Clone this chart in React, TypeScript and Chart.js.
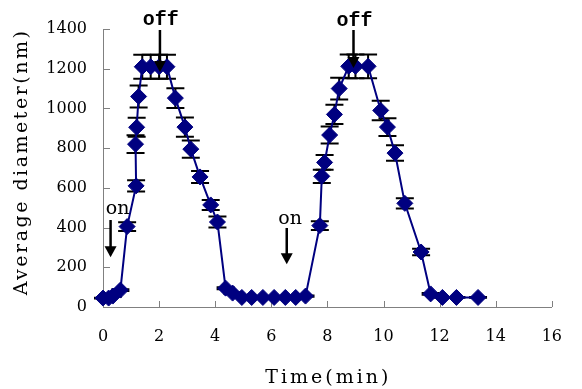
import React, { useEffect, useRef } from 'react';
import { Chart, registerables } from 'chart.js';

Chart.register(...registerables);

// Time (min)
const timeMin = [
  0, 0.2, 0.35, 0.62, 0.86, 1.18, 1.16, 1.2, 1.27, 1.4, 1.7, 2.0, 2.28,
  2.58, 2.92, 3.13, 3.46, 3.84, 4.08, 4.37, 4.62, 4.95, 5.3, 5.7, 6.1, 6.5, 6.87, 7.22,
  7.73, 7.8, 7.9, 8.08, 8.25, 8.42, 8.76, 9.0, 9.45,
  9.9, 10.14, 10.41, 10.76, 11.34, 11.68, 12.1, 12.6, 13.37,
];
// Average diameter (nm)
const diameterNm = [
  45, 45, 55, 85, 405, 610, 820, 905, 1060, 1210, 1210, 1210, 1210,
  1052, 906, 795, 655, 514, 428, 95, 70, 48, 48, 48, 48, 48, 48, 55,
  410, 658, 728, 866, 970, 1100, 1212, 1212, 1212,
  990, 906, 775, 522, 277, 66, 48, 48, 48,
];
// Error (nm)
const errorNm = [
  2, 2, 3, 5, 22, 28, 45, 48, 55, 60, 60, 60, 60,
  50, 48, 43, 30, 25, 28, 5, 4, 2, 2, 2, 2, 2, 2, 3,
  22, 33, 37, 43, 49, 55, 60, 60, 60,
  49, 45, 39, 26, 16, 4, 2, 2, 2,
];

const xMin = 0;
const xMax = 16;
const xStep = 2;
const yMin = 0;
const yMax = 1400;
const yStep = 200;

const xTitle = 'Time(min)';
const yTitle = 'Average diameter(nm)';

// Annotations (in data units)
const markerLabels = ['on', 'off', 'on', 'off'];
const markerArrowX = [0.27, 2.03, 6.55, 8.93];
const markerArrowFrom = [438, 1395, 398, 1395];
const markerArrowTo = [250, 1183, 215, 1203];
const markerLabelX = [0.52, 2.06, 6.67, 8.97];
const markerLabelY = [493, 1445, 443, 1440];

const NAVY = '#000080';
const AXIS_GRAY = '#808080';
const MONO = "'Liberation Mono', 'Courier New', monospace";
const SERIF = "'DejaVu Serif', 'Liberation Serif', serif";

const innerTicksPlugin = {
  id: 'innerTicks',
  beforeDatasetsDraw(chart: any) {
    const { ctx, scales, chartArea } = chart;
    const x = scales.x;
    const y = scales.y;
    ctx.save();
    ctx.strokeStyle = AXIS_GRAY;
    ctx.lineWidth = 1;
    ctx.beginPath();
    for (let v = yMin; v <= yMax; v += yStep) {
      const py = Math.round(y.getPixelForValue(v)) + 0.5;
      ctx.moveTo(chartArea.left, py);
      ctx.lineTo(chartArea.left + 7, py);
    }
    for (let v = xMin; v <= xMax; v += xStep) {
      const px = Math.round(x.getPixelForValue(v)) + 0.5;
      ctx.moveTo(px, chartArea.bottom);
      ctx.lineTo(px, chartArea.bottom - 6);
    }
    ctx.stroke();
    ctx.restore();
  },
};

const titlesPlugin = {
  id: 'spacedTitles',
  afterDraw(chart: any) {
    const { ctx, chartArea } = chart;
    ctx.save();
    ctx.fillStyle = '#000';
    ctx.font = '19px ' + SERIF;
    ctx.textAlign = 'center';
    ctx.textBaseline = 'middle';
    (ctx as any).letterSpacing = '3px';
    ctx.fillText(xTitle, (chartArea.left + chartArea.right) / 2 + 1, 378);
    (ctx as any).letterSpacing = '2.5px';
    ctx.translate(22, (chartArea.top + chartArea.bottom) / 2 - 6);
    ctx.rotate(-Math.PI / 2);
    ctx.fillText(yTitle, 0, 0);
    ctx.restore();
  },
};

const errorBarPlugin = {
  id: 'errorBars',
  beforeDatasetsDraw(chart: any) {
    const { ctx, scales } = chart;
    const x = scales.x;
    const y = scales.y;
    ctx.save();
    ctx.strokeStyle = '#000';
    ctx.lineWidth = 2;
    timeMin.forEach((t, i) => {
      const px = x.getPixelForValue(t);
      const yt = y.getPixelForValue(diameterNm[i] + errorNm[i]);
      const yb = y.getPixelForValue(diameterNm[i] - errorNm[i]);
      ctx.beginPath();
      ctx.moveTo(px, yt);
      ctx.lineTo(px, yb);
      ctx.moveTo(px - 9, yt);
      ctx.lineTo(px + 9, yt);
      ctx.moveTo(px - 9, yb);
      ctx.lineTo(px + 9, yb);
      ctx.stroke();
    });
    ctx.restore();
  },
};

const arrowPlugin = {
  id: 'arrows',
  afterDatasetsDraw(chart: any) {
    const { ctx, scales } = chart;
    const x = scales.x;
    const y = scales.y;
    ctx.save();
    markerLabels.forEach((label, i) => {
      const ax = x.getPixelForValue(markerArrowX[i]);
      const y0 = y.getPixelForValue(markerArrowFrom[i]);
      const y1 = y.getPixelForValue(markerArrowTo[i]);
      ctx.strokeStyle = '#000';
      ctx.fillStyle = '#000';
      ctx.lineWidth = 2.5;
      ctx.beginPath();
      ctx.moveTo(ax, y0);
      ctx.lineTo(ax, y1 - 8);
      ctx.stroke();
      ctx.beginPath();
      ctx.moveTo(ax - 6, y1 - 11);
      ctx.lineTo(ax + 6, y1 - 11);
      ctx.lineTo(ax, y1);
      ctx.closePath();
      ctx.fill();
      const lx = x.getPixelForValue(markerLabelX[i]);
      const ly = y.getPixelForValue(markerLabelY[i]);
      if (label === 'off') {
        ctx.font = 'bold 20px ' + MONO;
      } else {
        ctx.font = '19px ' + SERIF;
      }
      ctx.textAlign = 'center';
      ctx.textBaseline = 'middle';
      ctx.fillText(label, lx, ly);
    });
    ctx.restore();
  },
};

export default function App() {
  const canvasRef = useRef<HTMLCanvasElement | null>(null);

  useEffect(() => {
    const canvas = canvasRef.current;
    if (!canvas) return;
    const points = timeMin.map((t, i) => ({ x: t, y: diameterNm[i] }));
    const chart = new Chart(canvas, {
      type: 'line',
      data: {
        datasets: [
          {
            data: points,
            borderColor: NAVY,
            backgroundColor: NAVY,
            borderWidth: 2,
            pointStyle: 'rectRot',
            pointRadius: 8,
            pointBackgroundColor: NAVY,
            pointBorderColor: NAVY,
            pointBorderWidth: 1,
            tension: 0,
            clip: false,
          } as any,
        ],
      },
      options: {
        animation: false,
        responsive: false,
        maintainAspectRatio: false,
        layout: { padding: { top: 29, right: 13, left: 0, bottom: 0 } },
        plugins: {
          legend: { display: false },
          tooltip: { enabled: false },
        },
        scales: {
          x: {
            type: 'linear',
            min: xMin,
            max: xMax,
            afterFit: (scale: any) => {
              scale.height = 82;
            },
            ticks: {
              stepSize: xStep,
              color: '#000',
              padding: 20,
              font: { family: SERIF, size: 16 },
              callback: (v: any) => String(v),
            },
            grid: { display: true, drawOnChartArea: false, drawTicks: false },
            border: { display: true, color: AXIS_GRAY, width: 1 },
            title: { display: false },
          },
          y: {
            type: 'linear',
            min: yMin,
            max: yMax,
            afterFit: (scale: any) => {
              scale.width = 103;
            },
            ticks: {
              stepSize: yStep,
              color: '#000',
              padding: 16,
              font: { family: SERIF, size: 16 },
              callback: (v: any) => String(v),
            },
            grid: { display: true, drawOnChartArea: false, drawTicks: false },
            border: { display: true, color: AXIS_GRAY, width: 1 },
            title: { display: false },
          },
        },
      },
      plugins: [innerTicksPlugin, errorBarPlugin, arrowPlugin, titlesPlugin],
    });
    return () => chart.destroy();
  }, []);

  return (
    <div style={{ position: 'absolute', left: 0, top: 0, width: 582, height: 389 }}>
      <canvas ref={canvasRef} width={582} height={389} style={{ display: 'block' }} />
    </div>
  );
}
